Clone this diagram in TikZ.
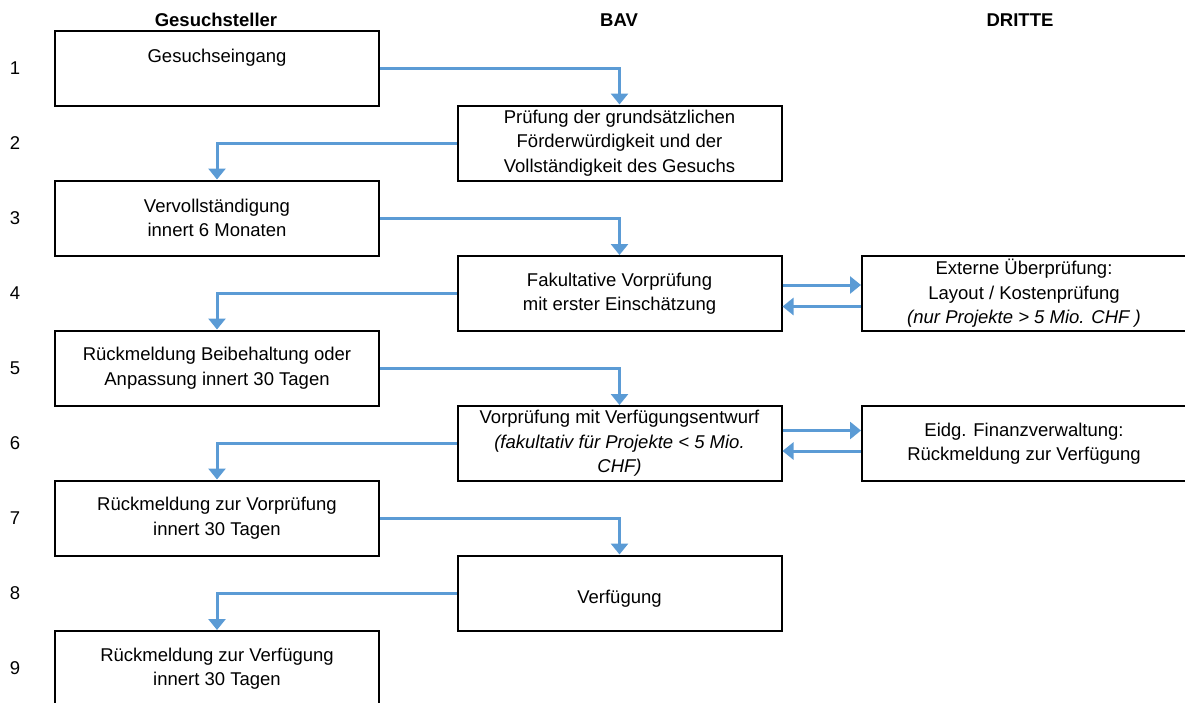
\documentclass[tikz,border=0pt]{standalone}
\usepackage{fontspec}
\setmainfont{Liberation Sans}
\usetikzlibrary{arrows.meta}
\definecolor{flowblue}{RGB}{91,155,213}
\begin{document}
\begin{tikzpicture}[x=1pt,y=-1pt,
  box/.style={draw=black, line width=2pt, minimum width=324pt, minimum height=75pt,
    align=center, inner sep=0pt, font=\fontsize{18.5}{24.5}\selectfont},
  flow/.style={draw=flowblue, line width=3pt, -{Triangle[width=17pt,length=11pt]}},
  head/.style={font=\fontsize{18.5}{22}\selectfont\bfseries},
  rownum/.style={font=\fontsize{18.5}{22}\selectfont}
]
\useasboundingbox (0,0) rectangle (1185,702);
% headers
\node[head] (h1) at (216,20) {Gesuchsteller};
\node[head] (h2) at (619,20) {BAV};
\node[head] (h3) at (1020,20) {DRITTE};
% row numbers
\foreach \i in {1,...,9} {
  \node[rownum] (r\i) at (15,{68+(\i-1)*75}) {\i};
}
% left column
\node[box] (b1) at (217,68) {Gesuchseingang\\\mbox{}};
\node[box] (b3) at (217,218) {Vervollständigung\\innert 6 Monaten};
\node[box] (b5) at (217,368) {Rückmeldung Beibehaltung oder\\Anpassung innert 30 Tagen};
\node[box] (b7) at (217,518) {Rückmeldung zur Vorprüfung\\innert 30 Tagen};
\node[box] (b9) at (217,668.5) {Rückmeldung zur Verfügung\\innert 30 Tagen};
% middle column
\node[box] (b2) at (619.5,143) {Prüfung der grundsätzlichen\\Förderwürdigkeit und der\\Vollständigkeit des Gesuchs};
\node[box] (b4) at (619.5,293.5) {Fakultative Vorprüfung\\mit erster Einschätzung};
\node[box] (b6) at (619.5,443.5) {Vorprüfung mit Verfügungsentwurf\\\textit{(fakultativ für Projekte < 5 Mio.}\\\textit{CHF)}};
\node[box, text height=25pt, text depth=4pt] (b8) at (619.5,593) {Verfügung};
% right column
\node[box] (d1) at (1024,293.5) {Externe Überprüfung:\\Layout / Kostenprüfung\\\textit{(nur Projekte > 5 Mio. CHF )}};
\node[box] (d2) at (1024,443.5) {Eidg. Finanzverwaltung:\\Rückmeldung zur Verfügung};
% connectors
\draw[flow] (b1.east) -| (b2.north);
\draw[flow] (b2.west) -| (b3.north);
\draw[flow] (b3.east) -| (b4.north);
\draw[flow] (b4.west) -| (b5.north);
\draw[flow] (b5.east) -| (b6.north);
\draw[flow] (b6.west) -| (b7.north);
\draw[flow] (b7.east) -| (b8.north);
\draw[flow] (b8.west) -| (b9.north);
\draw[flow] ([yshift=8.5pt]b4.east) -- ([yshift=8.5pt]d1.west);
\draw[flow] ([yshift=-13pt]d1.west) -- ([yshift=-13pt]b4.east);
\draw[flow] ([yshift=13pt]b6.east) -- ([yshift=13pt]d2.west);
\draw[flow] ([yshift=-7.5pt]d2.west) -- ([yshift=-7.5pt]b6.east);
\end{tikzpicture}
\end{document}
